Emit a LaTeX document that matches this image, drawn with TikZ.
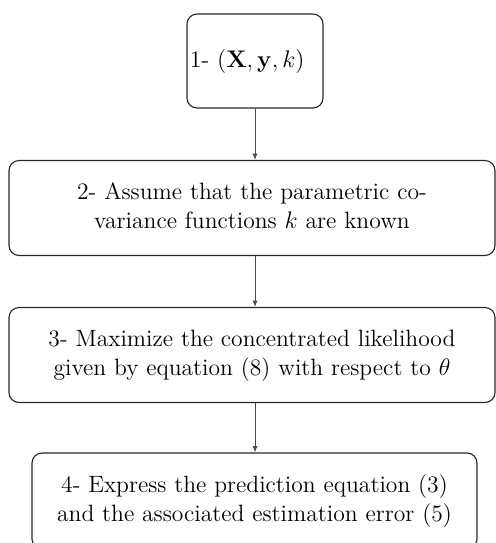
\documentclass[tikz,border=0pt]{standalone}
\usetikzlibrary{arrows.meta}
\begin{document}
\begin{tikzpicture}[x=1pt,y=1pt,
  font=\fontsize{11.8pt}{14.5pt}\selectfont,
  stepbox/.style={draw=black!85, line width=0.55pt, rounded corners=5pt, align=center, inner sep=0pt},
  flow/.style={draw=black!70, line width=0.45pt, -{Latex[length=3.2pt,width=2.6pt]}}]
\useasboundingbox (0,0) rectangle (248,-271.5);
\node[stepbox, text width=65pt, align=left, inner xsep=1.5pt, minimum height=47pt] (n1) at (127.5,-30.5) {\mbox{1- $(\mathbf{X},\mathbf{y},k)$}};
\node[stepbox, text width=230pt, minimum width=243pt, minimum height=47.5pt] (n2) at (126,-104) {2- Assume that the parametric co-\\variance functions $k$ are known\\[-12pt]\mbox{}};
\node[stepbox, text width=230pt, minimum width=243pt, minimum height=47.5pt] (n3) at (126,-177.5) {3- Maximize the concentrated likelihood\\given by equation (8) with respect to $\theta$\\[-12pt]\mbox{}};
\node[stepbox, text width=215pt, minimum width=222.5pt, minimum height=48pt] (n4) at (127.25,-250.5) {4- Express the prediction equation (3)\\and the associated estimation error (5)\\[-12pt]\mbox{}};
\draw[flow] (n1.south) -- (n1.south |- n2.north);
\draw[flow] (n1.south |- n2.south) -- (n1.south |- n3.north);
\draw[flow] (n1.south |- n3.south) -- (n1.south |- n4.north);
\end{tikzpicture}
\end{document}
